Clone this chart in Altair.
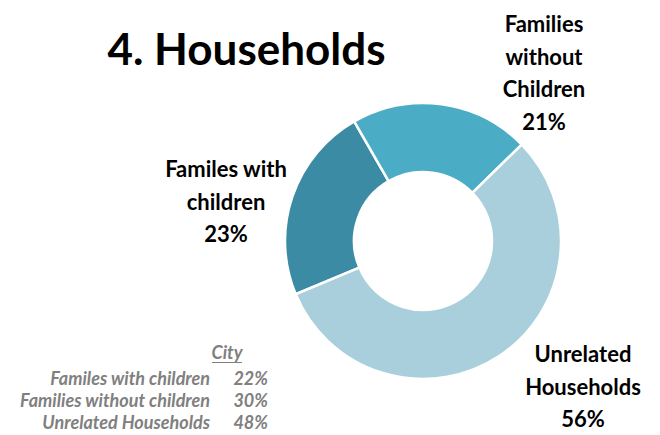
import math
import altair as alt
import pandas as pd

# ---- data ----
categories = ["Familes with children", "Families without Children", "Unrelated Households"]
shares = [23, 21, 56]
slice_labels = ["Familes with\nchildren", "Families\nwithout\nChildren", "Unrelated\nHouseholds"]

city_labels = ["Familes with children", "Families without children", "Unrelated Households"]
city_shares = [22, 30, 48]

title_text = "4. Households"
table_title = "City"

# ---- layout / style ----
colors = ["#3A8BA3", "#4BACC6", "#A9CFDC"]
FONT = "Lato"
W, H = 644, 427
CX, CY = 415, 233
START = math.radians(247.3)
label_pos = [(218, 169), (536, 24), (575, 354)]

pie_df = pd.DataFrame({"cat": categories, "val": shares, "ord": [0, 1, 2]})

ring = alt.Chart(pie_df).mark_arc(
    outerRadius=138, innerRadius=69, stroke="white", strokeWidth=2.5
).encode(
    theta=alt.Theta("val:Q", stack=True, scale=alt.Scale(range=[START, START + 2 * math.pi])),
    order=alt.Order("ord:Q"),
    color=alt.Color("cat:N", scale=alt.Scale(domain=categories, range=colors), legend=None),
    x=alt.value(CX),
    y=alt.value(CY),
)

lab_df = pd.DataFrame({
    "txt": [f"{l}\n{v}%" for l, v in zip(slice_labels, shares)],
    "px": [p[0] for p in label_pos],
    "py": [p[1] for p in label_pos],
})
labels = alt.Chart(lab_df).mark_text(
    font=FONT, fontSize=22, fontWeight="bold", color="black",
    lineBreak="\n", lineHeight=32.5, align="center", baseline="alphabetic"
).encode(
    text="txt:N",
    x=alt.X("px:Q", scale=alt.Scale(domain=[0, W], range=[0, W]), axis=None),
    y=alt.Y("py:Q", scale=alt.Scale(domain=[0, H], range=[0, H]), axis=None),
)

title = alt.Chart(pd.DataFrame({"t": [title_text]})).mark_text(
    font=FONT, fontSize=44, fontWeight="bold", color="black", align="center", baseline="alphabetic"
).encode(text="t:N", x=alt.value(238.5), y=alt.value(57))

TS = 18
tab_df = pd.DataFrame({
    "lab": city_labels,
    "pct": [f"{v}%" for v in city_shares],
    "row": [0, 1, 2],
})
ys = alt.Y("row:O", scale=alt.Scale(type="point", range=[376.5, 421], padding=0), axis=None)
tab_lab = alt.Chart(tab_df).mark_text(
    font=FONT, fontSize=TS, fontWeight="bold", fontStyle="italic", color="#808080",
    align="right", baseline="alphabetic"
).encode(text="lab:N", x=alt.value(202), y=ys)
tab_pct = alt.Chart(tab_df).mark_text(
    font=FONT, fontSize=TS, fontWeight="bold", fontStyle="italic", color="#808080",
    align="right", baseline="alphabetic"
).encode(text="pct:N", x=alt.value(260), y=ys)

city = alt.Chart(pd.DataFrame({"t": [table_title]})).mark_text(
    font=FONT, fontSize=TS, fontWeight="bold", fontStyle="italic", color="#808080",
    align="center", baseline="alphabetic"
).encode(text="t:N", x=alt.value(219), y=alt.value(351))
underline = alt.Chart(pd.DataFrame({"t": [table_title]})).mark_rule(
    color="#808080", strokeWidth=1
).encode(x=alt.value(204), x2=alt.value(234), y=alt.value(354.5))

chart = alt.layer(ring, labels, title, tab_lab, tab_pct, city, underline).resolve_scale(
    y="independent"
).properties(
    width=W, height=H, autosize="none", padding=0
).configure_view(stroke=None)

chart.save("out.html", embed_options={"renderer": "svg", "actions": False})
